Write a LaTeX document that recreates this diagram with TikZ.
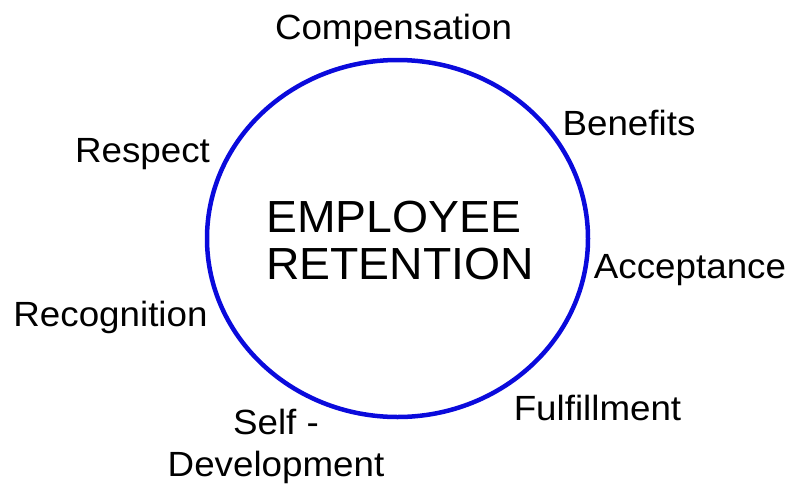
\documentclass[tikz,border=0pt]{standalone}
\usepackage{fontspec}
\setmainfont{Liberation Sans}
\definecolor{retentionBlue}{HTML}{0A0ADC}

\begin{document}
\begin{tikzpicture}[x=1pt, y=-1pt,
	factor/.style={font=\fontsize{35}{42}\selectfont, inner sep=0pt, anchor=base, xscale=1.05},
	title/.style={font=\fontsize{45}{47}\selectfont, inner sep=0pt, align=left, anchor=north west, xscale=1.03}]
	\useasboundingbox (0,0) rectangle (790,483);
	\draw[retentionBlue, line width=4.5pt] (397.5,238.5) ellipse [x radius=190.5, y radius=178.5];
	\node[title] (retention) at (266,201) {EMPLOYEE\\RETENTION};
	\node[factor] (compensation) at (393.5,39)  {Compensation};
	\node[factor] (benefits)     at (629,135)   {Benefits};
	\node[factor] (acceptance)   at (690,278)   {Acceptance};
	\node[factor] (fulfillment)  at (597.5,420) {Fulfillment};
	\node[factor, align=center, anchor=north] (selfDev) at (276,409) {Self -\\Development};
	\node[factor] (recognition)  at (110.5,326) {Recognition};
	\node[factor] (respect)      at (142.5,162) {Respect};
\end{tikzpicture}
\end{document}
